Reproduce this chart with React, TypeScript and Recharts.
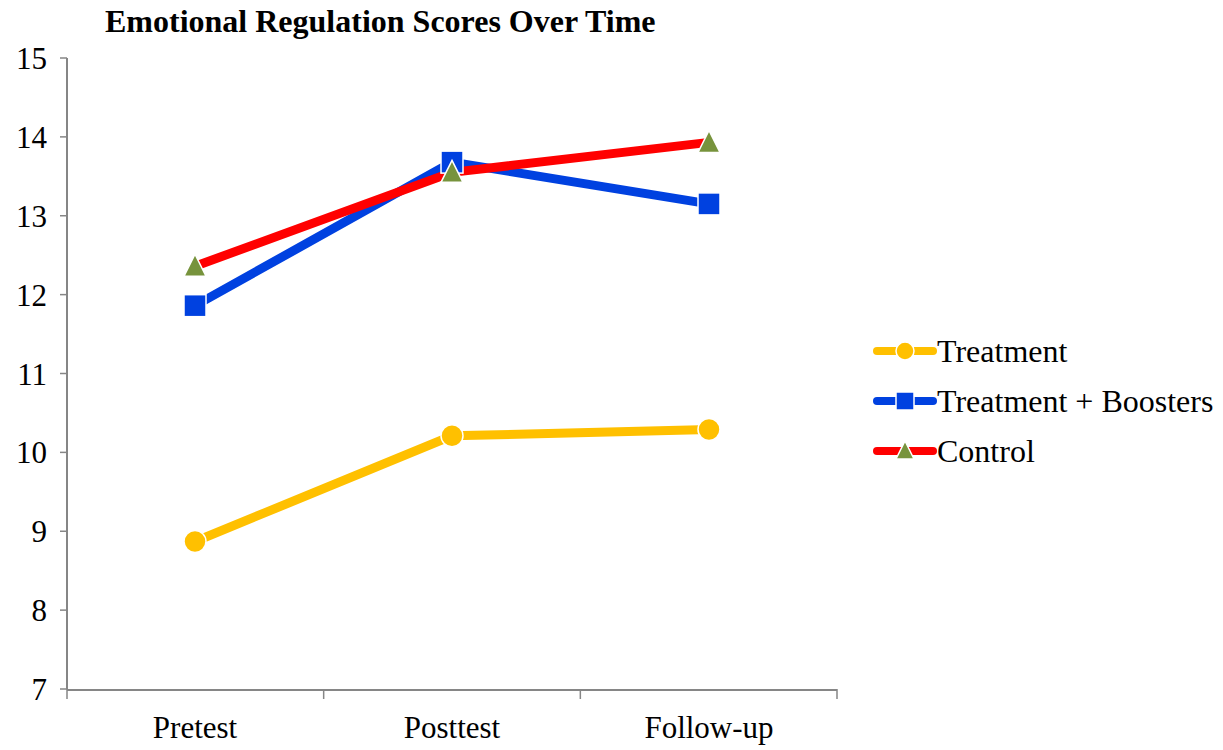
import { Legend, Line, LineChart, XAxis, YAxis } from "recharts";

// scores per measurement point
const categories = ["Pretest", "Posttest", "Follow-up"];
const treatment = [8.87, 10.21, 10.29];
const boosters = [11.86, 13.68, 13.15];
const control = [12.36, 13.55, 13.93];

const yTicks = [7, 8, 9, 10, 11, 12, 13, 14, 15];
// boundaries between the category bands (tick marks under the x axis)
const bandEdges = [0, 1, 2, 3];

const chartData = categories.map((period, i) => ({
  period,
  slot: i + 0.5,
  treatment: treatment[i],
  boosters: boosters[i],
  control: control[i],
}));

const colors = {
  treatment: "#FFC000",
  boosters: "#0041E0",
  control: "#FF0000",
  triangle: "#77933C",
  axis: "#868686",
};

const FONT = '"Liberation Serif", "Times New Roman", serif';

type Shape = "circle" | "square" | "triangle";

const series: { key: string; name: string; color: string; shape: Shape }[] = [
  { key: "treatment", name: "Treatment", color: colors.treatment, shape: "circle" },
  { key: "boosters", name: "Treatment + Boosters", color: colors.boosters, shape: "square" },
  { key: "control", name: "Control", color: colors.control, shape: "triangle" },
];

const Marker = ({ cx, cy, shape, size }: { cx: number; cy: number; shape: Shape; size: number }) => {
  const h = size / 2;
  if (shape === "circle") {
    return <circle cx={cx} cy={cy} r={h} fill={colors.treatment} stroke="#fff" strokeWidth={1.5} />;
  }
  if (shape === "square") {
    return <rect x={cx - h} y={cy - h} width={size} height={size} fill={colors.boosters} stroke="#fff" strokeWidth={1.5} />;
  }
  return (
    <path
      d={`M${cx},${cy - h - 1} L${cx + h},${cy + h - 1} L${cx - h},${cy + h - 1} Z`}
      fill={colors.triangle}
      stroke="#fff"
      strokeWidth={1.5}
    />
  );
};

const makeDot = (shape: Shape) => (props: any) => (
  <Marker key={`${shape}-${props.index}`} cx={props.cx} cy={props.cy} shape={shape} size={22} />
);

// legend keeps the series order (treatment, boosters, control)
const renderLegend = () => (
  <div>
    {series.map((s) => (
      <div key={s.key} style={{ display: "flex", alignItems: "center", height: 50 }}>
        <svg width={64} height={24} style={{ display: "block" }}>
          <line x1={4} y1={12} x2={60} y2={12} stroke={s.color} strokeWidth={8} strokeLinecap="round" />
          <Marker cx={32} cy={12} shape={s.shape} size={18} />
        </svg>
        <span style={{ fontFamily: FONT, fontSize: 32, color: "#000", lineHeight: "50px", whiteSpace: "nowrap" }}>
          {s.name}
        </span>
      </div>
    ))}
  </div>
);

const EmotionalRegulationChart = () => {
  const tickStyle = { fill: "#000", fontSize: 31, fontFamily: FONT };
  return (
    <div style={{ position: "absolute", left: 0, top: 0, width: 1223, height: 750, background: "#fff" }}>
      <div
        style={{
          position: "absolute",
          left: 105,
          top: 5,
          fontFamily: FONT,
          fontWeight: "bold",
          fontSize: 32,
          lineHeight: "32px",
          color: "#000",
          zIndex: 2,
        }}
      >
        Emotional Regulation Scores Over Time
      </div>
      <LineChart width={1223} height={750} data={chartData} margin={{ top: 58, right: 36, bottom: 0, left: 0 }}>
        {/* numeric axis for the tick marks between categories */}
        <XAxis
          xAxisId="band"
          type="number"
          dataKey="slot"
          domain={[0, 3]}
          allowDataOverflow
          ticks={bandEdges}
          axisLine={false}
          tickLine={{ stroke: colors.axis, strokeWidth: 1.5 }}
          tickSize={10}
          tickFormatter={() => ""}
          height={1}
        />
        <XAxis
          xAxisId="cat"
          dataKey="period"
          padding={{ left: 128, right: 128 }}
          axisLine={{ stroke: colors.axis, strokeWidth: 2 }}
          tickLine={false}
          tickMargin={20}
          tick={tickStyle}
          height={60}
          interval={0}
        />
        <YAxis
          domain={[7, 15]}
          ticks={yTicks}
          width={67}
          axisLine={{ stroke: colors.axis, strokeWidth: 2 }}
          tickLine={{ stroke: colors.axis, strokeWidth: 1.5 }}
          tickSize={7}
          tickMargin={13}
          tick={tickStyle}
          interval={0}
        />
        <Legend
          layout="vertical"
          verticalAlign="middle"
          align="right"
          content={renderLegend}
          wrapperStyle={{ left: 873, top: 326, width: 350 }}
        />
        {/* invisible series that ties the band axis to the data */}
        <Line
          xAxisId="band"
          dataKey="treatment"
          stroke="none"
          dot={false}
          activeDot={false}
          legendType="none"
          isAnimationActive={false}
        />
        {series.map((s) => (
          <Line
            key={s.key}
            xAxisId="cat"
            type="linear"
            dataKey={s.key}
            name={s.name}
            stroke={s.color}
            strokeWidth={9}
            dot={makeDot(s.shape)}
            activeDot={false}
            isAnimationActive={false}
          />
        ))}
      </LineChart>
    </div>
  );
};

export default function App() {
  return <EmotionalRegulationChart />;
}
